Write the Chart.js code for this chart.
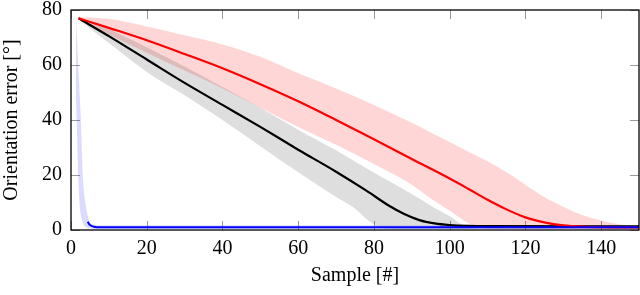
<!DOCTYPE html>
<html>
<head>
<meta charset="utf-8">
<script src="https://cdn.jsdelivr.net/npm/chart.js@4"></script>
<style>
  html, body { margin: 0; padding: 0; background: #fff; }
  #wrap { width: 640px; height: 295px; position: relative; }
</style>
</head>
<body>
<div id="wrap"><canvas id="c"></canvas></div>
<script>
// ---- data ----
const xTicks = [0, 20, 40, 60, 80, 100, 120, 140];
const yTicks = [0, 20, 40, 60, 80];

const blackX = [2, 10, 20, 30, 40, 50, 60, 70, 78, 84, 88, 92, 96, 100, 105, 110, 150];
const blackY = [77, 70.5, 62, 53.5, 45.5, 37.5, 29.2, 21.2, 14.3, 8.8, 5.8, 3.6, 2.4, 1.8, 1.5, 1.4, 1.3];
const grayUpperX = [2, 10, 20, 30, 40, 50, 60, 70, 78, 87, 92, 96, 100, 104, 108, 150];
const grayUpperY = [77.3, 73, 66.5, 59.5, 52, 44.5, 36.5, 29, 22.5, 15.5, 11.5, 8, 5, 1.5, 0.5, 0.5];
const grayLowerX = [2, 10, 20, 30, 40, 50, 60, 70, 75, 78, 82, 86, 150];
const grayLowerY = [76.5, 68, 57.5, 49, 40, 30.5, 21, 12, 7.8, 4, 0.8, 0.3, 0.3];

const redX = [2, 10, 20, 30, 40, 50, 60, 70, 80, 90, 100, 105, 110, 115, 120, 125, 130, 135, 140, 150];
const redY = [77, 73.5, 69, 64, 58.8, 53, 46.8, 40, 33, 25.8, 18.7, 14.9, 11, 7.5, 4.6, 2.8, 1.7, 1.2, 1.0, 0.9];
const redUpperX = [2, 10, 20, 30, 40, 50, 60, 70, 80, 90, 95, 100, 105, 110, 115, 120, 125, 130, 135, 140, 145, 150];
const redUpperY = [77.5, 76.8, 74, 70.8, 67.5, 63, 57, 51.5, 45.5, 39, 35.5, 32, 28.5, 25, 21, 16.5, 12, 8.5, 5.5, 3.5, 2, 0.8];
const redLowerX = [2, 10, 20, 30, 40, 50, 60, 70, 80, 90, 95, 100, 105, 110, 150];
const redLowerY = [76.5, 71, 64.5, 58, 51.5, 44.5, 37.5, 31, 24, 16.5, 11.5, 7, 2.5, 0.5, 0.3];

const blueX = [4.4, 5, 6, 8, 20, 40, 60, 80, 100, 120, 150];
const blueY = [3.0, 1.8, 1.2, 1.0, 1.0, 1.0, 1.0, 1.0, 1.0, 1.0, 1.0];
const blueUpperX = [1.3, 1.9, 2.6, 3.1, 3.9, 4.8, 6, 8, 150];
const blueUpperY = [77.5, 60, 40, 20, 9, 3.5, 2, 1.7, 1.7];
const blueLowerX = [0.9, 1.05, 1.5, 1.9, 2.3, 3, 4, 6, 150];
const blueLowerY = [77.5, 60, 40, 20, 9, 3, 1, 0.4, 0.4];

const pts = (xs, ys) => xs.map((x, i) => ({ x: x, y: ys[i] }));

function lineDs(xs, ys, color, w) {
  return { data: pts(xs, ys), borderColor: color, borderWidth: w, pointRadius: 0,
           fill: false, cubicInterpolationMode: 'monotone' };
}
function bandUpper(xs, ys, color) {
  return { data: pts(xs, ys), borderWidth: 0, borderColor: 'rgba(0,0,0,0)', pointRadius: 0,
           backgroundColor: color, fill: '+1', cubicInterpolationMode: 'monotone' };
}
function bandLower(xs, ys) {
  return { data: pts(xs, ys), borderWidth: 0, borderColor: 'rgba(0,0,0,0)', pointRadius: 0,
           fill: false, cubicInterpolationMode: 'monotone' };
}

const FONT = "'Liberation Serif', 'Times New Roman', serif";

const boxPlugin = {
  id: 'box',
  beforeDatasetsDraw(chart) {
    const { ctx, chartArea: a, scales } = chart;
    ctx.save();
    ctx.strokeStyle = '#9a9a9a';
    ctx.lineWidth = 1;
    const L = 9;
    ctx.beginPath();
    scales.x.ticks.forEach(t => {
      const px = Math.round(scales.x.getPixelForValue(t.value)) + 0.5;
      ctx.moveTo(px, a.bottom); ctx.lineTo(px, a.bottom - L);
      ctx.moveTo(px, a.top); ctx.lineTo(px, a.top + L);
    });
    scales.y.ticks.forEach(t => {
      const py = Math.round(scales.y.getPixelForValue(t.value)) + 0.5;
      ctx.moveTo(a.left, py); ctx.lineTo(a.left + L, py);
      ctx.moveTo(a.right, py); ctx.lineTo(a.right - L, py);
    });
    ctx.stroke();
    ctx.restore();
  },
  afterDatasetsDraw(chart) {
    const { ctx, chartArea: a } = chart;
    ctx.save();
    ctx.strokeStyle = '#000';
    ctx.lineWidth = 1.3;
    ctx.strokeRect(a.left, a.top, a.right - a.left, a.bottom - a.top);
    ctx.restore();
  }
};

new Chart(document.getElementById('c'), {
  type: 'line',
  data: {
    datasets: [
      lineDs(blueX, blueY, '#0000ff', 2),
      lineDs(redX, redY, '#ff0000', 2.2),
      lineDs(blackX, blackY, '#000000', 2.2),
      bandUpper(blueUpperX, blueUpperY, 'rgba(40,40,255,0.17)'),
      bandLower(blueLowerX, blueLowerY),
      bandUpper(grayUpperX, grayUpperY, 'rgba(0,0,0,0.13)'),
      bandLower(grayLowerX, grayLowerY),
      bandUpper(redUpperX, redUpperY, 'rgba(255,0,0,0.16)'),
      bandLower(redLowerX, redLowerY)
    ]
  },
  options: {
    responsive: true,
    maintainAspectRatio: false,
    animation: false,
    layout: { padding: { top: 10, right: 1, left: 0, bottom: 0 } },
    plugins: { legend: { display: false }, tooltip: { enabled: false } },
    scales: {
      x: {
        type: 'linear', min: 0, max: 150,
        grid: { display: false, drawTicks: false },
        border: { display: false },
        afterBuildTicks: s => { s.ticks = xTicks.map(v => ({ value: v })); },
        afterFit: s => { s.height = 65; s.paddingLeft = 0; s.paddingRight = 0; },
        ticks: { color: '#000', font: { family: FONT, size: 20 }, padding: 7, maxRotation: 0, autoSkip: false },
        title: { display: true, text: 'Sample [#]', color: '#000', font: { family: FONT, size: 20 }, padding: { top: 0, bottom: 7 } }
      },
      y: {
        type: 'linear', min: 0, max: 80,
        grid: { display: false, drawTicks: false },
        border: { display: false },
        afterBuildTicks: s => { s.ticks = yTicks.map(v => ({ value: v })); },
        afterFit: s => { s.width = 71; s.paddingTop = 0; s.paddingBottom = 0; },
        ticks: { color: '#000', font: { family: FONT, size: 20 }, padding: 9, autoSkip: false },
        title: { display: true, text: 'Orientation error [°]', color: '#000', font: { family: FONT, size: 20 }, padding: { top: 0, bottom: 3 } }
      }
    }
  },
  plugins: [boxPlugin]
});
</script>
</body>
</html>
